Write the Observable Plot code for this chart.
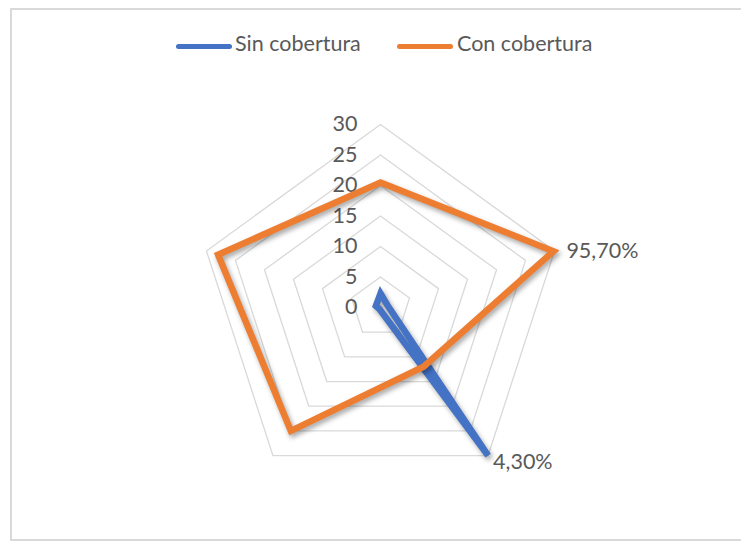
<!DOCTYPE html>
<html>
<head>
<meta charset="utf-8">
<script src="https://cdn.jsdelivr.net/npm/d3@7"></script>
<script src="https://cdn.jsdelivr.net/npm/@observablehq/plot@0.6"></script>
<style>
  html, body { margin: 0; padding: 0; background: #fff; }
  body { width: 741px; height: 544px; position: relative; overflow: hidden; font-family: Lato, "Open Sans", sans-serif; color: #595959; }
  #frame { position: absolute; left: 10px; top: 8px; width: 740px; height: 533px; border: 2px solid #d9d9d9; border-right: none; box-sizing: border-box; }
  .sw { position: absolute; height: 5px; border-radius: 3px; top: 44px; width: 56px; }
  .lt { position: absolute; top: 30px; font-size: 21.5px; line-height: 26px; white-space: nowrap; }
  #chart { position: absolute; left: 0; top: 88px; }
</style>
</head>
<body>
<div id="frame"></div>
<div id="legend"></div>
<div id="chart"></div>
<script>
const categories = ["1", "2", "3", "4", "5"];
const ticks = [0, 5, 10, 15, 20, 25, 30];
const seriesNames = ["Sin cobertura", "Con cobertura"];
const seriesColors = ["#4472C4", "#ED7D31"];
const sinCobertura = [2.3, 1.2, 30, 0.3, 0.8];
const conCobertura = [20.5, 29.8, 12, 25, 28];
const sinLabels = ["", "", "4,30%", "", ""];
const conLabels = ["", "95,70%", "", "", ""];

// legend
const legend = document.getElementById("legend");
const legendPos = [[176, 235], [397, 457]];
seriesNames.forEach((name, k) => {
  const sw = document.createElement("div");
  sw.className = "sw";
  sw.style.left = legendPos[k][0] + "px";
  sw.style.background = seriesColors[k];
  legend.appendChild(sw);
  const t = document.createElement("div");
  t.className = "lt";
  t.style.left = legendPos[k][1] + "px";
  t.textContent = name;
  legend.appendChild(t);
});

const n = categories.length;
const ang = i => Math.PI / 2 - i * 2 * Math.PI / n;
const pt = (v, i) => ({x: v * Math.cos(ang(i)), y: v * Math.sin(ang(i))});

const rings = ticks.filter(t => t > 0).flatMap(t => categories.map((c, i) => ({t, ...pt(t, i)})));
const sinData = sinCobertura.map((v, i) => ({cat: categories[i], v, label: sinLabels[i], ...pt(v, i)}));
const conData = conCobertura.map((v, i) => ({cat: categories[i], v, label: conLabels[i], ...pt(v, i)}));
const tickData = ticks.map(t => ({t, x: 0, y: t}));

const cx = 380, cy = 219, rad = 183;
const W = 741, H = 450;

const plot = Plot.plot({
  width: W, height: H, margin: 0,
  x: {domain: [-30, 30], range: [cx - rad, cx + rad], axis: null},
  y: {domain: [-30, 30], range: [cy + rad, cy - rad], axis: null},
  style: {fontFamily: "Lato, 'Open Sans', sans-serif", color: "#595959", background: "transparent"},
  marks: [
    Plot.line(rings, {x: "x", y: "y", z: "t", stroke: "#d9d9d9", strokeWidth: 1.3, curve: "linear-closed"}),
    Plot.text(tickData, {x: "x", y: "y", text: d => String(d.t), textAnchor: "end", dx: -23, fontSize: 21.5, fill: "#595959"}),
    Plot.line(sinData, {x: "x", y: "y", stroke: seriesColors[0], strokeWidth: 6.5, curve: "linear-closed", strokeLinejoin: "miter", strokeMiterlimit: 10}),
    Plot.line(conData, {x: "x", y: "y", stroke: seriesColors[1], strokeWidth: 6.5, curve: "linear-closed", strokeLinejoin: "miter", strokeMiterlimit: 10}),
    Plot.text(conData.filter(d => d.label), {x: "x", y: "y", text: "label", textAnchor: "start", dx: 13, dy: 0, fontSize: 21.5, fill: "#595959"}),
    Plot.text(sinData.filter(d => d.label), {x: "x", y: "y", text: "label", textAnchor: "start", dx: 5, dy: 7, fontSize: 21.5, fill: "#595959"})
  ]
});
d3.select(plot).selectAll("g[aria-label=line]").filter((d, i) => i > 0)
  .style("filter", "drop-shadow(2px 3px 2.5px rgba(0,0,0,0.35))");
document.getElementById("chart").appendChild(plot);
</script>
</body>
</html>
